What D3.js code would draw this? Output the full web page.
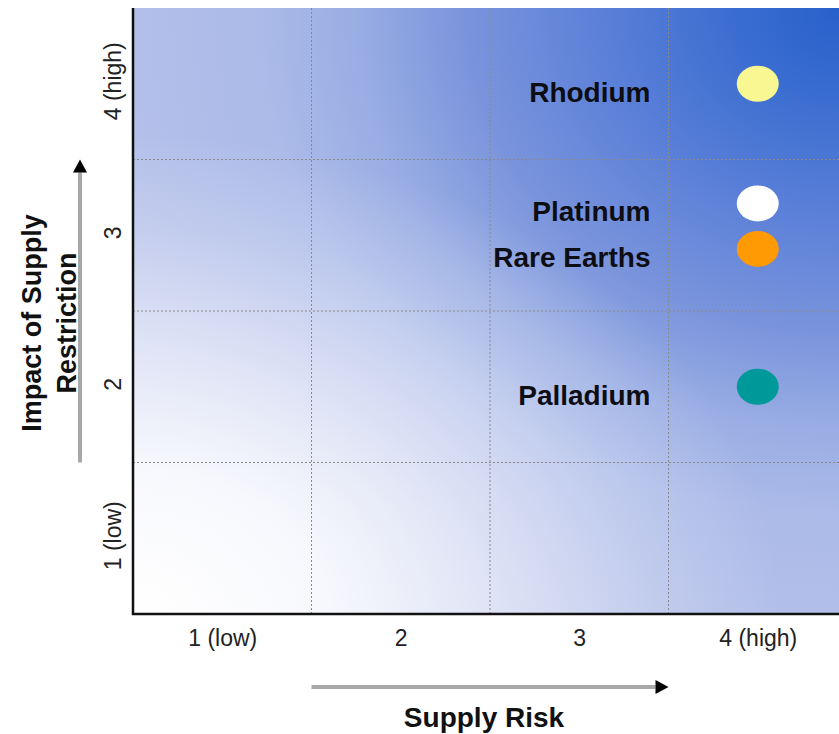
<!DOCTYPE html>
<html>
<head>
<meta charset="utf-8">
<script src="https://cdn.jsdelivr.net/npm/d3@7/dist/d3.min.js"></script>
<style>
  html, body { margin: 0; padding: 0; background: #ffffff; }
  svg { display: block; font-family: "Liberation Sans", Arial, Helvetica, sans-serif; }
</style>
</head>
<body>
<svg id="chart" width="839" height="734"></svg>
<script>
// ---- data ----
const xTickValues = [1, 2, 3, 4];
const xTickLabels = ["1 (low)", "2", "3", "4 (high)"];
const yTickValues = [1, 2, 3, 4];
const yTickLabels = ["1 (low)", "2", "3", "4 (high)"];
const metals = ["Rhodium", "Platinum", "Rare Earths", "Palladium"];
const supplyRisk = [4, 4, 4, 4];
const impact = [4.0, 3.21, 2.91, 2.0];
const metalColors = ["#f8f791", "#ffffff", "#ff9a05", "#00999a"];
const xTitle = "Supply Risk";
const yTitleLines = ["Impact of Supply", "Restriction"];

// ---- layout ----
const W = 839, H = 734;
const mLeft = 133, mTop = 8, plotW = 714, plotH = 606;
const svg = d3.select("#chart");

const x = d3.scaleLinear().domain([0.5, 4.5]).range([mLeft, mLeft + plotW]);
const y = d3.scaleLinear().domain([0.5, 4.5]).range([mTop + plotH, mTop]);

const x0 = x.range()[0], x1 = W, yB = y.range()[0], yT = y.range()[1];
const defs = svg.append("defs");

// layer 1: blue radial glow from the top-right corner
const R1 = 900;
const g1 = defs.append("radialGradient")
  .attr("id", "blueGlow")
  .attr("gradientUnits", "userSpaceOnUse")
  .attr("cx", x1).attr("cy", yT).attr("r", R1)
  .attr("fx", x1).attr("fy", yT)
  .attr("gradientTransform", `translate(${x1},${yT}) scale(1.15,1) translate(${-x1},${-yT})`);
[
  [0, "#2860cb"], [0.1, "#3a6dd0"], [0.23, "#5b80d8"], [0.36, "#7a94dc"],
  [0.47, "#9aaee4"], [0.56, "#abbae8"], [0.68, "#b3bfe9"], [0.88, "#c2caee"], [1, "#d0d6f2"]
].forEach(([o, c]) => g1.append("stop").attr("offset", o).attr("stop-color", c));

// layer 2: white glow from the bottom-left corner
const R2 = 480;
const g2 = defs.append("radialGradient")
  .attr("id", "whiteGlow")
  .attr("gradientUnits", "userSpaceOnUse")
  .attr("cx", x0).attr("cy", yB).attr("r", R2)
  .attr("fx", x0).attr("fy", yB)
  .attr("gradientTransform", `translate(${x0},${yB}) scale(1.35,1) translate(${-x0},${-yB})`);
[
  [0, 1], [0.3, 0.88], [0.55, 0.55], [0.8, 0.2], [1, 0]
].forEach(([o, a]) => g2.append("stop").attr("offset", o)
  .attr("stop-color", "#ffffff").attr("stop-opacity", a));

svg.append("rect")
  .attr("x", x0).attr("y", yT)
  .attr("width", x1 - x0).attr("height", yB - yT)
  .attr("fill", "url(#blueGlow)");
svg.append("rect")
  .attr("x", x0).attr("y", yT)
  .attr("width", x1 - x0).attr("height", yB - yT)
  .attr("fill", "url(#whiteGlow)");

// grid lines (dotted)
const gridVals = [1.5, 2.5, 3.5];
svg.append("g").selectAll("line").data(gridVals).join("line")
  .attr("x1", d => x(d)).attr("x2", d => x(d))
  .attr("y1", yT).attr("y2", yB)
  .attr("stroke", "#8a8a8a").attr("stroke-width", 1).attr("stroke-dasharray", "2,2");
svg.append("g").selectAll("line").data(gridVals).join("line")
  .attr("y1", d => y(d)).attr("y2", d => y(d))
  .attr("x1", x0).attr("x2", x1)
  .attr("stroke", "#8a8a8a").attr("stroke-width", 1).attr("stroke-dasharray", "2,2");

// axes
const xAxis = d3.axisBottom(x).tickValues(xTickValues)
  .tickFormat((d, i) => xTickLabels[i]).tickSize(0).tickPadding(0);
const gxAxis = svg.append("g").attr("transform", `translate(0,${yB})`).call(xAxis);
gxAxis.select(".domain").remove();
gxAxis.selectAll("text")
  .attr("y", 24).attr("dy", 0)
  .attr("dominant-baseline", "central")
  .style("font-size", "23px").style("fill", "#222")
  .style("font-family", "'Liberation Sans', Arial, sans-serif");

const yAxis = d3.axisLeft(y).tickValues(yTickValues)
  .tickFormat((d, i) => yTickLabels[i]).tickSize(0).tickPadding(0);
const gyAxis = svg.append("g").attr("transform", `translate(${x0},0)`).call(yAxis);
gyAxis.select(".domain").remove();
gyAxis.selectAll("text")
  .attr("x", 0).attr("dy", 0)
  .attr("text-anchor", "middle")
  .attr("dominant-baseline", "central")
  .attr("transform", "translate(-20,-3) rotate(-90)")
  .style("font-size", "23px").style("fill", "#222")
  .style("font-family", "'Liberation Sans', Arial, sans-serif");

// axis lines
svg.append("line").attr("x1", x0).attr("x2", x0).attr("y1", yT).attr("y2", yB + 1)
  .attr("stroke", "#111").attr("stroke-width", 2.5);
svg.append("line").attr("x1", x0 - 1).attr("x2", x1).attr("y1", yB).attr("y2", yB)
  .attr("stroke", "#111").attr("stroke-width", 2.5);

// arrows
function arrow(xa, ya, xb, yb) {
  const ang = Math.atan2(yb - ya, xb - xa);
  const hl = 13, hw = 7;
  const bx = xb - hl * Math.cos(ang), by = yb - hl * Math.sin(ang);
  svg.append("line").attr("x1", xa).attr("y1", ya).attr("x2", bx).attr("y2", by)
    .attr("stroke", "#a8a8a8").attr("stroke-width", 4);
  const px = -Math.sin(ang) * hw, py = Math.cos(ang) * hw;
  svg.append("path")
    .attr("d", `M${xb},${yb}L${bx + px},${by + py}L${bx - px},${by - py}Z`)
    .attr("fill", "#000");
}
arrow(x(1.5), 687, x(3.5), 687);
arrow(80, y(1.5), 80, y(3.5));

// axis titles
svg.append("text")
  .attr("x", x(2.5) - 6).attr("y", 727)
  .attr("text-anchor", "middle")
  .style("font-size", "28px").style("font-weight", "bold").style("fill", "#111")
  .text(xTitle);

const yt = svg.append("g").attr("transform", `translate(0,${y(2.5) + 12}) rotate(-90)`);
yt.selectAll("text").data(yTitleLines).join("text")
  .attr("x", 0).attr("y", (d, i) => 41 + i * 35)
  .attr("text-anchor", "middle")
  .style("font-size", "27px").style("font-weight", "bold").style("fill", "#111")
  .text(d => d);

// points
const pts = metals.map((m, i) => ({ name: m, sx: supplyRisk[i], iy: impact[i], color: metalColors[i] }));
svg.append("g").selectAll("ellipse").data(pts).join("ellipse")
  .attr("cx", d => x(d.sx)).attr("cy", d => y(d.iy))
  .attr("rx", 21).attr("ry", 18)
  .attr("fill", d => d.color);

// labels
svg.append("g").selectAll("text").data(pts).join("text")
  .attr("x", x(3.5) - 18).attr("y", d => y(d.iy) + 18)
  .attr("text-anchor", "end")
  .style("font-size", "28px").style("font-weight", "bold").style("fill", "#0d0d14")
  .text(d => d.name);
</script>
</body>
</html>
